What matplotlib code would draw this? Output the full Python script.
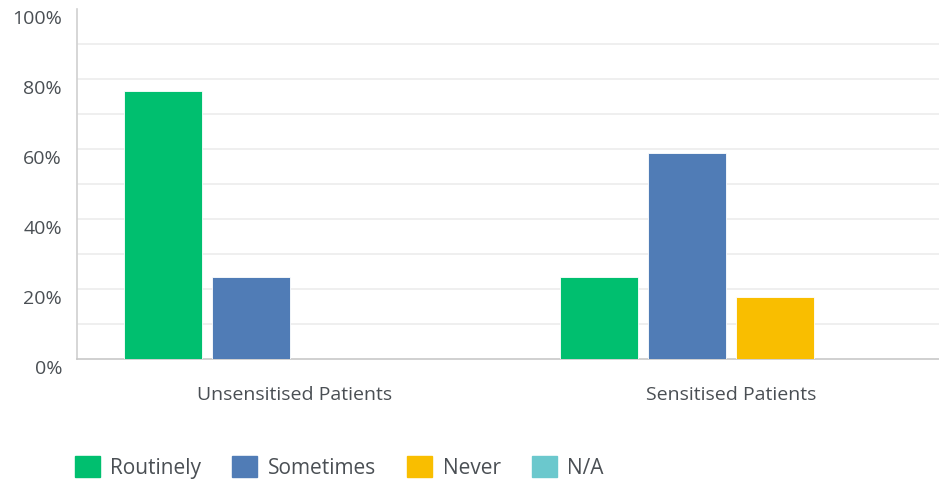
import matplotlib
matplotlib.use("Agg")
import matplotlib.pyplot as plt
import matplotlib.transforms as mtransforms
from matplotlib.patches import Patch
import numpy as np

plt.rcParams['font.family'] = ['Open Sans', 'DejaVu Sans']

# data (percent of respondents)
groups = ["Unsensitised Patients", "Sensitised Patients"]
series = ["Routinely", "Sometimes", "Never", "N/A"]
routinely = [76.5, 23.5]
sometimes = [23.5, 58.8]
never = [0.0, 17.6]
na = [0.0, 0.0]
colors = ["#00bf6f", "#507cb6", "#f9be00", "#6bc8cd"]
yticks = [0, 20, 40, 60, 80, 100]
ytick_labels = ["0%", "20%", "40%", "60%", "80%", "100%"]

values = [routinely, sometimes, never, na]
text_color = "#4a4f54"

fig = plt.figure(figsize=(9.39, 4.85), dpi=100)
ax = fig.add_axes([77 / 939, 125 / 485, 862 / 939, 350 / 485])

x = np.arange(len(groups))
step = 0.2018
width = 0.179
for i, (name, vals) in enumerate(zip(series, values)):
    ax.bar(x + (i - 1.5) * step, vals, width=width, color=colors[i],
           edgecolor="white", linewidth=0.6, zorder=3, label=name)

ax.set_xlim(-0.5, 1.477)
ax.set_ylim(0, 100)

# light gridlines every 10%
for g in range(10, 100, 10):
    ax.axhline(g, color="#ececec", linewidth=1.2, zorder=1)

# y labels sit a little below their value
ax.set_yticks(yticks)
ax.set_yticklabels([])
ax.tick_params(axis="y", length=0)
ytrans = mtransforms.blended_transform_factory(ax.transAxes, ax.transData)
ytrans = ytrans + mtransforms.ScaledTranslation(-15 / 100, -9 / 100, fig.dpi_scale_trans)
for v, lab in zip(yticks, ytick_labels):
    ax.text(0, v, lab, transform=ytrans, ha="right", va="center",
            fontsize=14, color=text_color, clip_on=False)

ax.set_xticks(x)
ax.set_xticklabels(groups, fontsize=14, color=text_color)
ax.tick_params(axis="x", length=0, pad=19)

for s in ["top", "right"]:
    ax.spines[s].set_visible(False)
ax.spines["left"].set_color("#d0d0d0")
ax.spines["left"].set_linewidth(1.2)
ax.spines["bottom"].set_color("#c8c8c8")
ax.spines["bottom"].set_linewidth(1.2)

handles = [Patch(facecolor=c, edgecolor=c, label=s) for c, s in zip(colors, series)]
fig.legend(handles=handles, loc="lower left", bbox_to_anchor=(56 / 939, -13 / 485),
           ncol=4, frameon=False, fontsize=15, labelcolor=text_color,
           handlelength=1.2, handleheight=1.2, handletextpad=0.5, columnspacing=1.5)

fig.savefig("out.png", dpi=100)
